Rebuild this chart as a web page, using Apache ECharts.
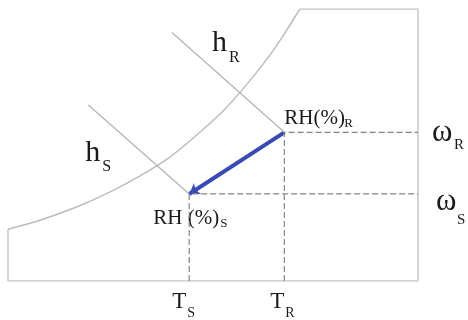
<!DOCTYPE html>
<html lang="en">
  <head>
    <meta charset="UTF-8" />
    <script src="https://cdn.jsdelivr.net/npm/echarts@6/dist/echarts.min.js"></script>
    <style>
      html, body { margin: 0; padding: 0; background: #fff; }
      #main { width: 468px; height: 320px; }
    </style>
  </head>
  <body>
    <div id="main"></div>
    <script>
      // dry-bulb temperature (x) and humidity ratio (y) of the two states
      const stateR = [33.7, 16.4];
      const stateS = [22.1, 9.6];

      // saturation curve
      const saturation = [
        [0, 5.7], [3.9, 6.7], [8.2, 8.1], [12.4, 9.8], [16.1, 11.6], [19.8, 13.7],
        [23.4, 16.4], [26.5, 19.0], [29.5, 22.1], [32.0, 25.0], [33.8, 27.4], [35.6, 30],
      ];

      // constant-enthalpy lines ending at each state
      const enthalpyR = [[20.0, 27.4], stateR];
      const enthalpyS = [[9.8, 19.4], stateS];

      // chart limits and frame
      const tMin = 0, tMax = 50, wMin = 0, wMax = 30;
      const frame = [[35.6, wMax], [tMax, wMax], [tMax, wMin], [tMin, wMin], [tMin, 5.7]];

      const serif = "Liberation Serif";
      const myChart = echarts.init(document.getElementById("main"));

      function guide(p) {
        return [[p[0], wMin], p, [tMax, p[1]]];
      }

      const thin = (color, width, type) => ({
        type: "line",
        symbol: "none",
        silent: true,
        lineStyle: { color: color, width: width, type: type || "solid" },
      });

      myChart.setOption({
        animation: false,
        grid: { left: 8, right: 50, top: 9, bottom: 39 },
        xAxis: { type: "value", min: tMin, max: tMax, show: false },
        yAxis: { type: "value", min: wMin, max: wMax, show: false },
        series: [
          Object.assign(thin("#c6c6c6", 1.5), { data: frame }),
          Object.assign(thin("#bcbcbc", 1.5), { data: saturation, smooth: 0.3 }),
          Object.assign(thin("#b4b4b4", 1.3), { data: enthalpyR }),
          Object.assign(thin("#b4b4b4", 1.3), { data: enthalpyS }),
          Object.assign(thin("#858585", 1.2, [6, 3]), { data: guide(stateR) }),
          Object.assign(thin("#858585", 1.2, [6, 3]), { data: guide(stateS) }),
          {
            type: "lines",
            coordinateSystem: "cartesian2d",
            symbol: ["none", "arrow"],
            symbolSize: [8, 10],
            lineStyle: { color: "#3a4ab2", width: 4, opacity: 1 },
            data: [{ coords: [stateR, stateS] }],
          },
        ],
      });

      // label: main text + subscript, offsets in pixels from an anchor point
      function label(anchor, main, sub, f, fs, mx, my, sx, sy) {
        const p = myChart.convertToPixel("grid", anchor);
        const txt = (s, x, y, size) => ({
          type: "text",
          x: p[0] + x,
          y: p[1] + y,
          silent: true,
          style: {
            text: s,
            fill: "#1a1a1a",
            font: size + "px '" + serif + "'",
            align: "left",
            verticalAlign: "middle",
          },
        });
        return [txt(main, mx, my, f), txt(sub, sx, sy, fs)];
      }

      const graphics = [].concat(
        label(enthalpyR[0], "h", "R", 30, 16, 40, 10.5, 57, 25.6),
        label(enthalpyS[0], "h", "S", 30, 16, -3, 48.5, 14, 61.6),
        label(stateR, "RH(%)", "R", 21, 13, 0, -13.8, 60, -8.4),
        label(stateS, "RH (%)", "S", 21, 13, -36, 24.2, 31, 29.6),
        label([tMax, stateR[1]], "ω", "R", 31, 15, 14, 0.5, 36, 12.9),
        label([tMax, stateS[1]], "ω", "S", 31, 15, 18, 7.5, 39, 25.9),
        label([stateS[0], wMin], "T", "S", 23, 14, -17, 21, -2, 32.2),
        label([stateR[0], wMin], "T", "R", 23, 14, -14, 21, 1, 32.2)
      );

      myChart.setOption({ graphic: graphics });
    </script>
  </body>
</html>
